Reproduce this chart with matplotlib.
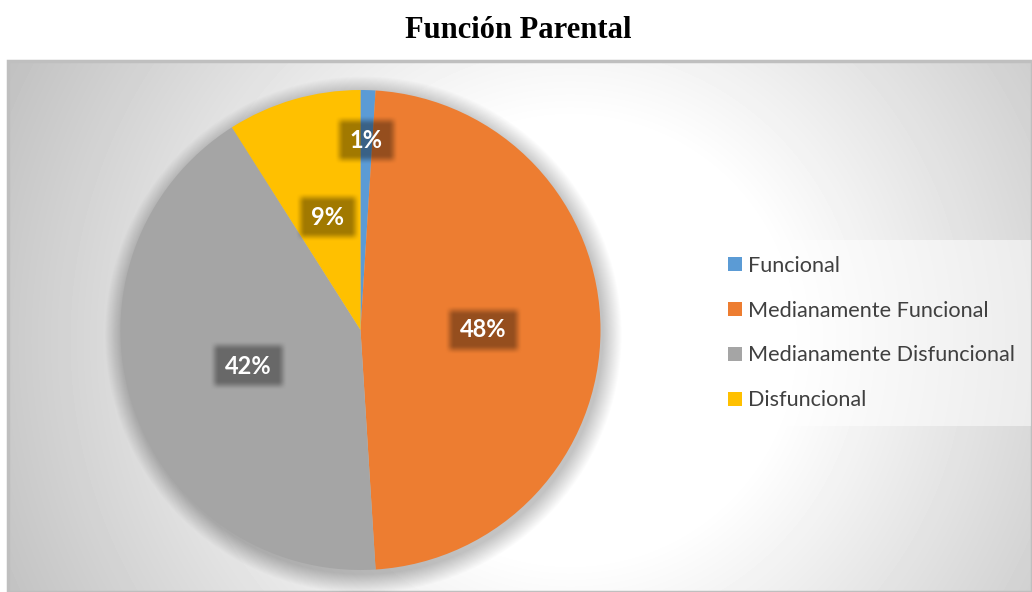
import numpy as np
import matplotlib.pyplot as plt
from matplotlib.patches import Circle, Rectangle

labels = ['Funcional', 'Medianamente Funcional',
          'Medianamente Disfuncional', 'Disfuncional']
values = [1, 48, 42, 9]
colors = ['#5B9BD5', '#ED7D31', '#A5A5A5', '#FFC000']
# radial position of each percentage label (fraction of radius)
label_r = [0.79, 0.51, 0.49, 0.49]

W, H = 1032, 592
fig = plt.figure(figsize=(W / 100, H / 100), dpi=100)
fig.patch.set_facecolor('white')

# plot area with radial grey gradient
px0, py0, px1, py1 = 8, 61, 1032, 592
bg = fig.add_axes([px0 / W, 1 - py1 / H, (px1 - px0) / W, (py1 - py0) / H])
yy, xx = np.mgrid[0:py1 - py0, 0:px1 - px0]
d = np.hypot(xx - (570 - px0), yy - (340 - py0))
shade = 1 - 0.24 * np.clip((d - 220) / 400, 0, 1)
bg.imshow(shade, cmap='gray', vmin=0, vmax=1, aspect='auto',
          interpolation='bilinear')
bg.set_axis_off()
bg.add_patch(Rectangle((0, 0), 1, 1, transform=bg.transAxes, fill=False,
                       edgecolor='#bfbfbf', lw=2.5, clip_on=False))

# pie
cx, cy, R = 360.5, 330, 240
ax = fig.add_axes([(cx - R) / W, 1 - (cy + R) / H, 2 * R / W, 2 * R / H])
ax.set_axis_off()

# soft shadow under the pie
for k in range(20):
    ax.add_patch(Circle((0.012, -0.02), 1.0 + 0.004 * k, color='black',
                        alpha=0.012, lw=0, clip_on=False, zorder=0))

wedges, _ = ax.pie(values, colors=colors, startangle=90, counterclock=False,
                   radius=1, wedgeprops=dict(linewidth=0))
for w in wedges:
    w.set_zorder(2)

total = sum(values)
start = 90.0
pct_texts = []
for v, r in zip(values, label_r):
    mid = np.deg2rad(start - 360 * v / total / 2)
    start -= 360 * v / total
    x, y = r * np.cos(mid), r * np.sin(mid)
    t = ax.text(x, y, f'{v}%', ha='center', va='center', fontsize=17,
                fontfamily='Lato', fontweight='bold', color='white', zorder=4)
    pct_texts.append((t, x, y))

# blurred dark box behind each label, sized from the rendered text
fig.canvas.draw()
px = 2 / (2 * R)  # data units per pixel
blur = 5.0
for t, x, y in pct_texts:
    bw = t.get_window_extent().width / 2 + 11
    bh = 20.0
    mx, my = bw + 2 * blur, bh + 2 * blur
    u = np.linspace(-mx, mx, int(2 * mx) + 1)
    w = np.linspace(-my, my, int(2 * my) + 1)
    fx = np.clip((bw + blur - np.abs(u)) / (2 * blur), 0, 1)
    fy = np.clip((bh + blur - np.abs(w)) / (2 * blur), 0, 1)
    fx = fx * fx * (3 - 2 * fx)
    fy = fy * fy * (3 - 2 * fy)
    rgba = np.zeros((len(w), len(u), 4))
    rgba[..., 3] = 0.37 * np.outer(fy, fx)
    ax.imshow(rgba, extent=(x - mx * px, x + mx * px, y - my * px, y + my * px),
              interpolation='bilinear', aspect='auto', zorder=3)

ax.set_xlim(-1, 1)
ax.set_ylim(-1, 1)

leg = fig.legend(wedges, labels, loc='upper left',
                 bbox_to_anchor=(712 / W, 1 - 240 / H),
                 prop=dict(family='Lato', size=15.6), frameon=True,
                 fancybox=False, handlelength=0.65, handleheight=0.65,
                 handletextpad=0.3, labelspacing=1.15, borderpad=0.72,
                 borderaxespad=0)
leg.get_frame().set_facecolor('white')
leg.get_frame().set_alpha(0.5)
leg.get_frame().set_edgecolor('none')
for t in leg.get_texts():
    t.set_color('#404040')

fig.text(518 / W, 1 - 30 / H, 'Función Parental', ha='center', va='center',
         fontsize=22, fontfamily='Liberation Serif', fontweight='bold')

fig.savefig('out.png', dpi=100)
